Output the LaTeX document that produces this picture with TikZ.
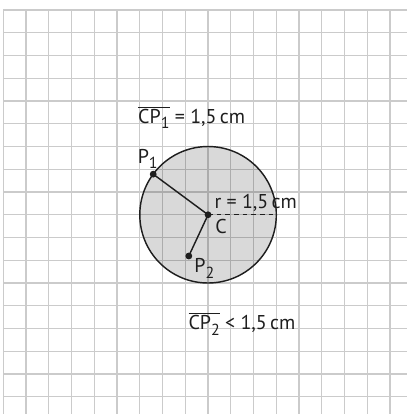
\documentclass[tikz,border=0pt]{standalone}
\usepackage{fontspec}
\setmainfont{PT Sans}
\usetikzlibrary{positioning,calc}
\definecolor{gridcol}{HTML}{CBCBCB}
\definecolor{ink}{HTML}{1E1E1E}
\tikzset{
  gridline/.style={gridcol, line width=0.7pt},
  disc/.style={circle, draw=ink, line width=0.9pt, fill=black, fill opacity=0.15, text opacity=1, inner sep=0pt, minimum size=3cm},
  dot/.style={circle, fill=ink, inner sep=0pt, minimum size=1.5mm},
  radline/.style={ink, line width=0.9pt},
  dashline/.style={ink, line width=0.6pt, dash pattern=on 3pt off 2.4pt},
  lbl/.style={font=\fontsize{12.5}{15}\selectfont, text=ink, inner sep=1pt},
}
\newcommand{\low}[1]{\raisebox{-3.4pt}{\fontsize{10}{12}\selectfont #1}}
\newcommand{\seg}[2]{$\overline{\mbox{#1\low{#2}}}$}

\begin{document}
\begin{tikzpicture}
  \useasboundingbox (-0.0725,0.22) rectangle (8.873,-8.879);
  \draw[gridline] (0,-8.879) grid[step=0.5] (8.873,0);
  % circle with centre C, r = 1,5 cm
  \node[disc] (kreis) at (4.5,-4.5) {};
  \node[dot] (C) at (kreis.center) {};
  \node[dot] (P1) at ($(C)+(143.5:1.5)$) {};
  \node[dot] (P2) at ($(C)+(245:1)$) {};
  \draw[radline] (C.center) -- (P1.center);
  \draw[radline] (C.center) -- (P2.center);
  \draw[dashline] (C.center) -- (kreis.east);
  % labels
  \node[lbl, anchor=south west] (rlbl) at ($(C)+(0.1,0.02)$) {r = 1,5\,cm};
  \node[lbl, anchor=north west] (Clbl) at ($(C)+(0.12,-0.06)$) {C};
  \node[lbl, anchor=south] (P1lbl) at ($(P1)+(-0.12,0.08)$) {P\low{1}};
  \node[lbl, anchor=north west] (P2lbl) at ($(P2)+(0.08,-0.02)$) {P\low{2}};
  \node[lbl] (eq1) at (4.14,-2.36) {\seg{CP}{1} = 1,5\,cm};
  \node[lbl] (eq2) at (5.246,-6.9) {\seg{CP}{2} < 1,5\,cm};
\end{tikzpicture}
\end{document}
